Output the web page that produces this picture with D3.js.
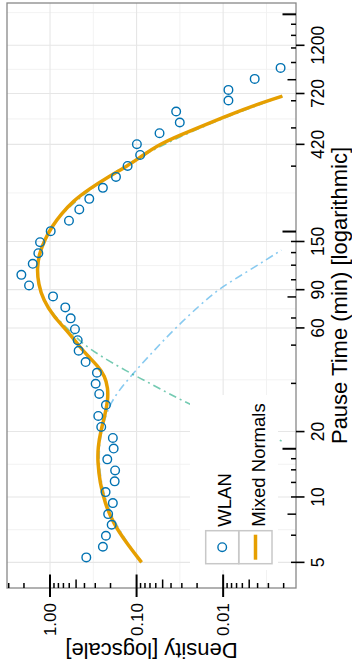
<!DOCTYPE html>
<html><head><meta charset="utf-8">
<script src="https://cdn.jsdelivr.net/npm/d3@7"></script>
<style>body{margin:0;background:#fff}svg{display:block}</style>
</head><body>
<svg id="c" width="352" height="667"></svg>
<script>
// ---- axis ranges / ticks ----
const pauseLimits = [3.81, 1879];          // minutes (panel extent)
const densityLimits = [3.14, 0.00144];     // panel extent
const pauseTicks = [5, 10, 20, 60, 90, 150, 420, 720, 1200];
const pauseMinor = [7.07, 14.14, 34.64, 73.48, 116.2, 251, 549.9, 929.5, 1697];
const densityTicks = [1, 0.1, 0.01];
const densityTickLabels = ["1.00", "0.10", "0.01"];
const densityMinor = [0.316, 0.0316, 0.00316];

// ---- data: WLAN empirical density ----
const wlanPause = [5.27,5.90,6.63,7.45,8.34,9.37,10.53,11.8,13.25,14.9,16.7,18.7,21.0,23.6,26.5,29.8,33.2,37.3,41.8,47.1,52.7,59.2,66.4,74.6,83.8,94.1,105.3,118.4,132.5,148.9,167.4,187,210.6,235.7,264.8,297.5,334,375.5,420.6,472.6,529.5,595,668.5,748,840.6,944.6];
const wlanDensity = [0.381,0.245,0.226,0.194,0.213,0.188,0.228,0.179,0.177,0.218,0.184,0.188,0.256,0.277,0.226,0.270,0.297,0.287,0.388,0.467,0.479,0.515,0.577,0.666,0.923,1.747,2.143,1.583,1.364,1.304,0.982,0.604,0.459,0.352,0.245,0.173,0.127,0.0909,0.0992,0.0543,0.0317,0.0349,0.00869,0.00869,0.00432,0.00217];

// ---- Mixed Normals fit ----
const mixPause = [5,6.13,7.58,9.37,11.6,14.5,17.0,20.3,23.8,27.9,31.7,36.0,40.0,44.5,49.0,58.6,68.0,80.6,95.4,113,131,154,176,200,230,261,297,334,374,420.6,463,520,572,636,700];
const mixDensity = [0.0876,0.1304,0.1862,0.232,0.265,0.2817,0.2795,0.258,0.232,0.2143,0.2143,0.232,0.2795,0.3645,0.4508,0.642,0.916,1.195,1.364,1.413,1.339,1.142,0.948,0.7466,0.543,0.3549,0.2143,0.127,0.0846,0.0539,0.0317,0.01558,0.00869,0.00432,0.00207];

// ---- mixture components ----
const compAPause = [5,7.58,11.6,17.0,21.3,27.4,35.7,45.9,58.6,76.4,91.5,110.7,136.8];
const compADensity = [0.0876,0.186,0.265,0.276,0.2447,0.2032,0.1195,0.0671,0.0378,0.0186,0.01094,0.00493,0.002126];
const compBPause = [18.1,21.65,26.5,33.4,37.2,48.4,58.6,68,80.6,95.4,113,131,154,176,200,261,374,520,700];
const compBDensity = [0.00211,0.00716,0.0243,0.0703,0.1195,0.3773,0.60,0.89,1.18,1.354,1.408,1.336,1.142,0.948,0.747,0.355,0.0909,0.0156,0.00207];

const seriesNames = ["WLAN", "Mixed Normals"];
const cBlue = "#0072B2", cOrange = "#E69F00", cSky = "#56B4E9", cGreen = "#009E73";
const FONT = "'Liberation Sans', Arial, Helvetica, sans-serif";

// panel (rotated plot: pause time vertical, density horizontal)
const P = {left: 7, right: 296, top: 3, bottom: 588};
const y = d3.scaleLog().domain(pauseLimits).range([P.bottom, P.top]);
const x = d3.scaleLog().domain(densityLimits).range([P.left, P.right]);

const svg = d3.select("#c");
svg.append("rect").attr("width", 352).attr("height", 667).attr("fill", "#fff");
const defs = svg.append("defs");
defs.append("clipPath").attr("id", "pc").append("rect")
  .attr("x", P.left).attr("y", P.top).attr("width", P.right - P.left).attr("height", P.bottom - P.top);

const g = svg.append("g");
const grid = g.append("g").attr("clip-path", "url(#pc)");
// minor grid
grid.selectAll(".hm").data(pauseMinor.filter(v => v > pauseLimits[0] && v < pauseLimits[1])).join("line")
  .attr("x1", P.left).attr("x2", P.right).attr("y1", d => y(d)).attr("y2", d => y(d))
  .attr("stroke", "#f0f0f0").attr("stroke-width", 0.9);
grid.selectAll(".vm").data(densityMinor).join("line")
  .attr("y1", P.top).attr("y2", P.bottom).attr("x1", d => x(d)).attr("x2", d => x(d))
  .attr("stroke", "#f0f0f0").attr("stroke-width", 0.9);
// major grid
grid.selectAll(".hM").data(pauseTicks).join("line")
  .attr("x1", P.left).attr("x2", P.right).attr("y1", d => y(d)).attr("y2", d => y(d))
  .attr("stroke", "#e6e6e6").attr("stroke-width", 1.1);
grid.selectAll(".vM").data(densityTicks).join("line")
  .attr("y1", P.top).attr("y2", P.bottom).attr("x1", d => x(d)).attr("x2", d => x(d))
  .attr("stroke", "#e6e6e6").attr("stroke-width", 1.1);

const plot = g.append("g").attr("clip-path", "url(#pc)");
const lineGen = d3.line().x(d => x(d[1])).y(d => y(d[0])).curve(d3.curveBasis);
const zip = (a, b) => a.map((v, i) => [v, b[i]]);

plot.append("path").datum(zip(compAPause, compADensity)).attr("d", lineGen)
  .attr("fill", "none").attr("stroke", cSky).attr("stroke-opacity", 0.7)
  .attr("stroke-width", 1.6).attr("stroke-dasharray", "2,4,8,4");
plot.append("path").datum(zip(compBPause, compBDensity)).attr("d", lineGen)
  .attr("fill", "none").attr("stroke", cGreen).attr("stroke-opacity", 0.55)
  .attr("stroke-width", 1.6).attr("stroke-dasharray", "2,4,8,4");
plot.append("path").datum(zip(mixPause, mixDensity)).attr("d", lineGen)
  .attr("fill", "none").attr("stroke", cOrange).attr("stroke-width", 3.5).attr("stroke-linecap", "butt");
plot.selectAll(".pt").data(zip(wlanPause, wlanDensity)).join("circle")
  .attr("cx", d => x(d[1])).attr("cy", d => y(d[0])).attr("r", 4.3)
  .attr("fill", "none").attr("stroke", cBlue).attr("stroke-width", 1.4);

// panel border
g.append("rect").attr("x", P.left).attr("y", P.top).attr("width", P.right - P.left).attr("height", P.bottom - P.top)
  .attr("fill", "none").attr("stroke", "#888").attr("stroke-width", 1.3);

// log ticks (inside panel)
const lenFor = m => m === 1 ? 13.5 : (m === 5 ? 8.5 : 5);
const pauseLog = [];
for (let k = 2; k <= 5; k++) for (let m = 1; m <= 9; m++) {
  const minutes = m * Math.pow(10, k) / 60; // log ticks in seconds
  if (minutes >= pauseLimits[0] && minutes <= pauseLimits[1]) pauseLog.push({v: minutes, m});
}
g.selectAll(".plt").data(pauseLog).join("line")
  .attr("x1", d => P.right - lenFor(d.m)).attr("x2", P.right)
  .attr("y1", d => y(d.v)).attr("y2", d => y(d.v))
  .attr("stroke", "#000").attr("stroke-width", d => d.m === 1 ? 2 : 1.5);
const densLog = [];
for (let k = -3; k <= 0; k++) for (let m = 1; m <= 9; m++) {
  const v = m * Math.pow(10, k);
  if (v <= densityLimits[0] && v >= densityLimits[1]) densLog.push({v, m});
}
g.selectAll(".dlt").data(densLog).join("line")
  .attr("y1", d => P.bottom - lenFor(d.m)).attr("y2", P.bottom)
  .attr("x1", d => x(d.v)).attr("x2", d => x(d.v))
  .attr("stroke", "#000").attr("stroke-width", d => d.m === 1 ? 2 : 1.5);

// axis ticks (outside)
g.selectAll(".pt2").data(pauseTicks).join("line")
  .attr("x1", P.right).attr("x2", P.right + 8.5).attr("y1", d => y(d)).attr("y2", d => y(d))
  .attr("stroke", "#000").attr("stroke-width", 1.6);
g.selectAll(".dt2").data(densityTicks).join("line")
  .attr("y1", P.bottom).attr("y2", P.bottom + 9).attr("x1", d => x(d)).attr("x2", d => x(d))
  .attr("stroke", "#000").attr("stroke-width", 2);

// tick labels
g.selectAll(".ptl").data(pauseTicks).join("text")
  .attr("transform", d => `translate(${P.right + 28},${y(d)}) rotate(-90)`)
  .attr("text-anchor", "middle").attr("font-family", FONT).attr("font-size", 17.5).attr("fill", "#000")
  .text(d => d);
g.selectAll(".dtl").data(densityTicks).join("text")
  .attr("transform", d => `translate(${x(d) + 6.3},${P.bottom + 15}) rotate(-90)`)
  .attr("text-anchor", "end").attr("font-family", FONT).attr("font-size", 17).attr("fill", "#000")
  .text((d, i) => densityTickLabels[i]);

// axis titles
g.append("text").attr("transform", `translate(347,${(P.top + P.bottom) / 2}) rotate(-90)`)
  .attr("text-anchor", "middle").attr("font-family", FONT).attr("font-size", 22).attr("fill", "#000")
  .text("Pause Time (min) [logarithmic]");
g.append("text").attr("transform", `translate(${(P.left + P.right) / 2},643) rotate(180)`)
  .attr("text-anchor", "middle").attr("font-family", FONT).attr("font-size", 22).attr("fill", "#000")
  .text("Density [logscale]");

// legend
const L = g.append("g");
L.append("rect").attr("x", 190).attr("y", 395).attr("width", 88).attr("height", 175).attr("fill", "#fff");
const keyX = [205.7, 239], keyY = 530.7, keyS = 33;
keyX.forEach((kx, i) => {
  L.append("rect").attr("x", kx).attr("y", keyY).attr("width", keyS).attr("height", keyS)
    .attr("fill", "#fff").attr("stroke", "#c8c8c8").attr("stroke-width", 1.5);
  L.append("text").attr("transform", `translate(${kx + keyS / 2 + 9},${keyY - 4}) rotate(-90)`)
    .attr("text-anchor", "start").attr("font-family", FONT).attr("font-size", 18.5).attr("fill", "#000")
    .text(seriesNames[i]);
});
L.append("circle").attr("cx", keyX[0] + keyS / 2).attr("cy", keyY + keyS / 2).attr("r", 4.3)
  .attr("fill", "none").attr("stroke", cBlue).attr("stroke-width", 1.4);
L.append("line").attr("x1", keyX[1] + keyS / 2).attr("x2", keyX[1] + keyS / 2)
  .attr("y1", keyY + 4).attr("y2", keyY + keyS - 4).attr("stroke", cOrange).attr("stroke-width", 3.5);
</script>
</body></html>
